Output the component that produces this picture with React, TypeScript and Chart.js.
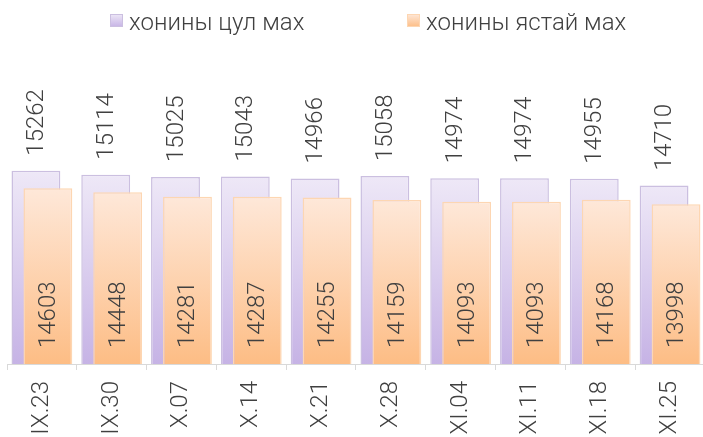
import React, { useEffect, useRef } from "react";
import { Chart, registerables } from "chart.js";

Chart.register(...registerables);

const categories = ["IX.23", "IX.30", "X.07", "X.14", "X.21", "X.28", "XI.04", "XI.11", "XI.18", "XI.25"];
const seriesNames = ["хонины цул мах", "хонины ястай мах"];
const fatMutton = [15262, 15114, 15025, 15043, 14966, 15058, 14974, 14974, 14955, 14710];
const leanMutton = [14603, 14448, 14281, 14287, 14255, 14159, 14093, 14093, 14168, 13998];
const yMin = 8000;
const yMax = 19420;

const FONT = "Roboto";
const TEXT = "#404040";

const palette = [
  { top: "#EEE8F7", bottom: "#C6B3E5", border: "#CBBFE0" },
  { top: "#FEE8D9", bottom: "#FDBD85", border: "#FDD6B2" },
];

function barGradient(idx: number) {
  return (ctx: any) => {
    const chart = ctx.chart;
    const p = palette[idx];
    if (!chart.chartArea || ctx.raw == null || !chart.scales.y) return p.bottom;
    const y = chart.scales.y;
    const top = y.getPixelForValue(ctx.raw);
    const bottom = y.getPixelForValue(y.min);
    if (!isFinite(top) || !isFinite(bottom) || top === bottom) return p.bottom;
    const g = chart.ctx.createLinearGradient(0, top, 0, bottom);
    g.addColorStop(0, p.top);
    g.addColorStop(1, p.bottom);
    return g;
  };
}

// draw the second (right) series on top of the first one
const drawOrderPlugin = {
  id: "drawOrder",
  beforeDatasetDraw(chart: any, args: any) {
    if (args.index === 1 && !chart.$drawingSecond) return false;
    return true;
  },
  afterDatasetDraw(chart: any, args: any) {
    if (args.index === 0) {
      const meta = chart.getDatasetMeta(1);
      if (meta && meta.visible) {
        const a = chart.chartArea;
        const ctx = chart.ctx;
        ctx.save();
        ctx.beginPath();
        ctx.rect(a.left, a.top, a.right - a.left, a.bottom - a.top);
        ctx.clip();
        chart.$drawingSecond = true;
        meta.controller.draw();
        chart.$drawingSecond = false;
        ctx.restore();
      }
    }
  },
};

const labelsPlugin = {
  id: "customLabels",
  afterDraw(chart: any) {
    const ctx = chart.ctx;
    const base = chart.scales.y.getPixelForValue(yMin);
    ctx.save();
    ctx.fillStyle = TEXT;
    ctx.font = `300 24px ${FONT}`;
    ctx.textAlign = "left";
    ctx.textBaseline = "middle";
    chart.data.datasets.forEach((ds: any, di: number) => {
      const meta = chart.getDatasetMeta(di);
      meta.data.forEach((bar: any, i: number) => {
        const v = ds.data[i];
        const startY = di === 0 ? bar.y - 15 : base - 16;
        ctx.save();
        ctx.translate(bar.x, startY);
        ctx.rotate(-Math.PI / 2);
        ctx.fillText(String(v), 0, 1);
        ctx.restore();
      });
    });
    // legend
    const items = [
      { x: 110, text: seriesNames[0], p: palette[0] },
      { x: 407, text: seriesNames[1], p: palette[1] },
    ];
    ctx.textBaseline = "alphabetic";
    ctx.font = `300 24px ${FONT}`;
    items.forEach((it) => {
      const g = ctx.createLinearGradient(0, 14, 0, 27);
      g.addColorStop(0, it.p.top);
      g.addColorStop(1, it.p.bottom);
      ctx.fillStyle = g;
      ctx.fillRect(it.x, 14, 13, 13);
      ctx.strokeStyle = it.p.border;
      ctx.lineWidth = 1;
      ctx.strokeRect(it.x + 0.5, 14.5, 12, 12);
      ctx.fillStyle = TEXT;
      ctx.fillText(it.text, it.x + 19, 30);
    });
    ctx.restore();
  },
};

export default function App() {
  const ref = useRef<HTMLCanvasElement | null>(null);
  useEffect(() => {
    if (!ref.current) return;
    const chart = new Chart(ref.current, {
      type: "bar",
      data: {
        labels: categories,
        datasets: [
          {
            label: seriesNames[0],
            data: fatMutton,
            base: yMin,
            backgroundColor: barGradient(0),
            borderColor: palette[0].border,
            borderWidth: 1.5,
            categoryPercentage: 0.343,
            barPercentage: 4.08,
          } as any,
          {
            label: seriesNames[1],
            data: leanMutton,
            base: yMin,
            backgroundColor: barGradient(1),
            borderColor: palette[1].border,
            borderWidth: 1.5,
            categoryPercentage: 0.343,
            barPercentage: 4.08,
          } as any,
        ],
      },
      options: {
        animation: false,
        responsive: false,
        maintainAspectRatio: false,
        devicePixelRatio: 1,
        layout: { padding: { top: 60, left: 7, right: 3, bottom: 0 } },
        plugins: {
          legend: { display: false },
          tooltip: { enabled: false },
        },
        scales: {
          x: {
            grid: {
              display: true,
              drawOnChartArea: false,
              drawTicks: true,
              tickLength: 6,
              color: "#D9D9D9",
              offset: true,
            },
            border: { display: true, color: "#D9D9D9", width: 1 },
            ticks: {
              autoSkip: false,
              maxRotation: 90,
              minRotation: 90,
              padding: 11,
              color: TEXT,
              font: { family: FONT, size: 24, weight: "300" as any },
            },
            afterFit: (scale: any) => {
              scale.height = 73;
            },
          },
          y: {
            display: false,
            min: yMin,
            max: yMax,
          },
        },
      },
      plugins: [drawOrderPlugin, labelsPlugin],
    });
    return () => chart.destroy();
  }, []);
  return (
    <div style={{ position: "fixed", left: 0, top: 0, width: 703, height: 437, overflow: "hidden", background: "#fff" }}>
      <canvas ref={ref} width={710} height={437} style={{ display: "block", width: 710, height: 437 }} />
    </div>
  );
}
